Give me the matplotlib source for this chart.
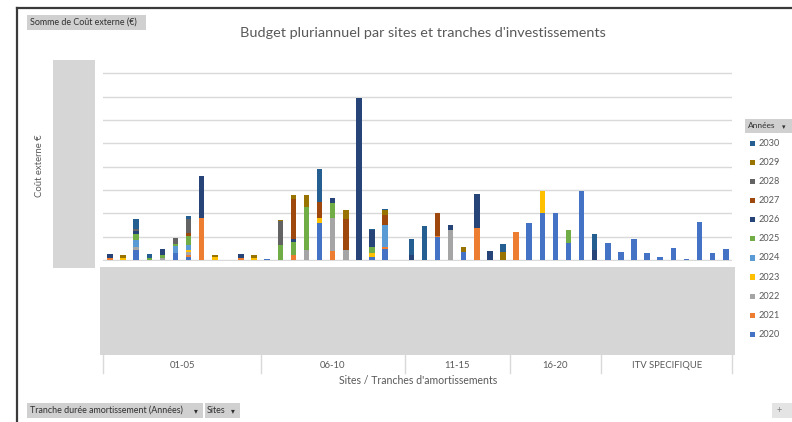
import matplotlib
matplotlib.use("Agg")
import matplotlib.pyplot as plt
from matplotlib.patches import Rectangle
from matplotlib.lines import Line2D
import matplotlib.transforms as mtransforms
import numpy as np

W, H, DPI = 792, 422, 100
FONT = ['Lato', 'DejaVu Sans']
plt.rcParams['font.family'] = FONT

title = "Budget pluriannuel par sites et tranches d'investissements"
y_label = "Coût externe €"
x_label = "Sites / Tranches d'amortissements"
value_button = "Somme de Coût externe (€)"
legend_title = "Années"

groups = ["01-05", "06-10", "11-15", "16-20", "ITV SPECIFIQUE"]
group_sizes = [12, 11, 8, 7, 10]

years = [2020, 2021, 2022, 2023, 2024, 2025, 2026, 2027, 2028, 2029, 2030]
colors = ["#4472C4", "#ED7D31", "#A5A5A5", "#FFC000", "#5B9BD5", "#70AD47",
          "#264478", "#9E480E", "#636363", "#997300", "#255E91"]

# values per year for each of the 48 sites (grouped 12 | 11 | 8 | 7 | 10)
v2020 = [0, 0, .45, 0, 0, .30, .12, 0, 0, 0, 0, 0,
         .05, 0, 0, 0, 1.57, 0, 0, 0, .11, .46, 0,
         0, 0, .97, 0, .36, 0, 0, 0,
         0, 1.60, 2.00, 2.00, .71, 2.97, 0,
         .71, .33, .89, .29, .11, .53, .03, 1.61, .31, .46]
v2021 = [.10, 0, 0, 0, 0, 0, .10, 1.79, 0, 0, .08, 0,
         0, 0, .21, 0, 0, .40, 0, 0, 0, .09, 0,
         0, 0, .06, 0, 0, 1.39, 0, 0,
         1.21, 0, 0, 0, 0, 0, 0,
         0, 0, 0, 0, 0, 0, 0, 0, 0, 0]
v2022 = [0, 0, .10, 0, .08, 0, .12, 0, 0, 0, 0, 0,
         0, 0, 0, .43, 0, 1.39, .43, 0, 0, 0, 0,
         0, 0, 0, 1.29, 0, 0, 0, 0,
         0, 0, 0, 0, 0, 0, 0,
         0, 0, 0, 0, 0, 0, 0, 0, 0, 0]
v2023 = [0, .10, 0, 0, 0, 0, .10, 0, .12, 0, 0, .10,
         0, 0, 0, 0, .21, 0, 0, 0, .20, 0, 0,
         0, 0, 0, 0, 0, 0, 0, 0,
         0, 0, .97, 0, 0, 0, 0,
         0, 0, 0, 0, 0, 0, 0, 0, 0, 0]
v2024 = [0, 0, .30, 0, 0, .28, .20, 0, 0, 0, 0, 0,
         0, 0, 0, 0, 0, 0, 0, 0, 0, .93, 0,
         0, 0, 0, 0, 0, 0, 0, 0,
         0, 0, 0, 0, 0, 0, 0,
         0, 0, 0, 0, 0, 0, 0, 0, 0, 0]
v2025 = [0, 0, .25, .10, .12, .12, .40, 0, 0, 0, 0, 0,
         0, .64, .57, 1.86, 0, .64, 0, 0, .23, 0, 0,
         0, 0, 0, 0, 0, 0, 0, 0,
         0, 0, 0, 0, .57, 0, 0,
         0, 0, 0, 0, 0, 0, 0, 0, 0, 0]
v2026 = [.14, 0, .15, 0, .26, 0, 0, 1.81, 0, 0, .19, 0,
         0, 0, .14, 0, 0, .21, 0, 6.96, .74, 0, 0,
         .20, 0, 0, .21, 0, 1.42, .39, 0,
         0, 0, 0, 0, 0, 0, .43,
         0, 0, 0, 0, 0, 0, 0, 0, 0, 0]
v2027 = [0, 0, 0, 0, 0, 0, .10, 0, 0, 0, 0, 0,
         0, 0, 1.71, 0, .71, 0, 1.31, 0, 0, .46, 0,
         0, 0, .97, 0, 0, 0, 0, 0,
         0, 0, 0, 0, 0, 0, 0,
         0, 0, 0, 0, 0, 0, 0, 0, 0, 0]
v2028 = [0, 0, .10, 0, 0, .26, .60, 0, 0, 0, 0, 0,
         0, 1.02, 0, 0, 0, 0, 0, 0, 0, 0, 0,
         0, 0, 0, 0, 0, 0, 0, 0,
         0, 0, 0, 0, 0, 0, 0,
         0, 0, 0, 0, 0, 0, 0, 0, 0, 0]
v2029 = [0, .13, 0, 0, 0, 0, 0, 0, .09, 0, 0, .11,
         0, .05, .14, .50, 0, 0, .40, 0, 0, .19, 0,
         0, 0, 0, 0, .21, 0, 0, .33,
         0, 0, 0, 0, 0, 0, 0,
         0, 0, 0, 0, 0, 0, 0, 0, 0, 0]
v2030 = [0, 0, .39, .14, 0, 0, .15, 0, 0, 0, 0, 0,
         0, 0, 0, 0, 1.39, 0, 0, 0, .07, .05, 0,
         .69, 1.47, 0, 0, 0, 0, 0, .34,
         0, 0, 0, 0, 0, 0, .67,
         0, 0, 0, 0, 0, 0, 0, 0, 0, 0]
series = [v2020, v2021, v2022, v2023, v2024, v2025, v2026, v2027, v2028, v2029, v2030]

GRAY_TXT = "#595959"
BOX = "#D6D6D6"

fig = plt.figure(figsize=(W / DPI, H / DPI), dpi=DPI)
fig.patch.set_facecolor("white")


def fx(px):
    return px / W


def fy(py):
    return 1 - py / H


def frect(x0, y0, x1, y1, **kw):
    fig.patches.append(Rectangle((fx(x0), fy(y1)), fx(x1) - fx(x0), fy(y0) - fy(y1),
                                 transform=fig.transFigure, **kw))


unit = 23.33
ylo, yhi = -0.04, 8.04
base_px = 260.0
ax = fig.add_axes([fx(103.45), fy(base_px - ylo * unit),
                   fx(732.3) - fx(103.45), (yhi - ylo) * unit / H])
n = sum(group_sizes)
x = np.arange(n)
bottom = np.zeros(n)
for yr, col, vals in zip(years, colors, series):
    vals = np.array(vals, dtype=float)
    ax.bar(x, vals, 0.42, bottom=bottom, color=col, linewidth=0, label=str(yr), zorder=3)
    bottom += vals
ax.set_xlim(-0.5, n - 0.5)
ax.set_ylim(ylo, yhi)
ax.set_yticks(np.arange(0, 9))
ax.yaxis.grid(True, color="#D9D9D9", lw=1.0, zorder=0)
ax.set_axisbelow(True)
ax.tick_params(length=0, labelleft=False, labelbottom=False)
for s in ax.spines.values():
    s.set_visible(False)
ax.patch.set_alpha(0)

# outer frame
fig.add_artist(Line2D([fx(17), fx(17)], [fy(8), fy(422)], transform=fig.transFigure,
                      color="#3A3A3A", lw=1.6))
fig.add_artist(Line2D([fx(17), fx(792)], [fy(8), fy(8)], transform=fig.transFigure,
                      color="#3A3A3A", lw=1.6))

# masking grey panels
frect(53, 60, 95, 268, color=BOX, lw=0)
frect(100, 267, 735, 355, color=BOX, lw=0)

# title and buttons
fig.text(fx(423), fy(33), title, ha="center", va="center", fontsize=10.4, color=GRAY_TXT)
frect(27, 15, 146, 30, color="#D0D0D0", lw=0)
fig.text(fx(30), fy(22.5), value_button, ha="left", va="center", fontsize=6.4, color="#303030")
fig.text(fx(40), fy(166), y_label, ha="center", va="center", rotation=90, fontsize=6.8, color=GRAY_TXT)

# category group axis
trans = mtransforms.blended_transform_factory(ax.transData, fig.transFigure)
edges = np.concatenate([[0], np.cumsum(group_sizes)]) - 0.5
for e in edges:
    fig.add_artist(Line2D([e, e], [fy(355), fy(373)], transform=trans, color="#D9D9D9", lw=1.0))
for g, a, b in zip(groups, edges[:-1], edges[1:]):
    fig.text((a + b) / 2, fy(365), g, transform=trans, ha="center", va="center",
             fontsize=6.8, color=GRAY_TXT)
fig.text(fx(418), fy(381), x_label, ha="center", va="center", fontsize=7.6, color=GRAY_TXT)

# bottom buttons
frect(27, 403, 203, 418, color="#D0D0D0", lw=0)
fig.text(fx(30), fy(410.5), "Tranche durée amortissement (Années)", ha="left", va="center",
         fontsize=6.4, color="#303030")
fig.text(fx(196), fy(410.5), "▾", ha="center", va="center", fontsize=5.5, color="#303030")
frect(204.5, 403, 240, 418, color="#D0D0D0", lw=0)
fig.text(fx(207), fy(410.5), "Sites", ha="left", va="center", fontsize=6.4, color="#303030")
fig.text(fx(233), fy(410.5), "▾", ha="center", va="center", fontsize=5.5, color="#303030")
frect(772, 403, 792, 418, color="#E4E4E4", lw=0)
fig.text(fx(779), fy(410.5), "+", ha="center", va="center", fontsize=6.5, color="#808080")

# legend
frect(745, 119, 792, 133, color="#D0D0D0", lw=0)
fig.text(fx(748), fy(126), legend_title, ha="left", va="center", fontsize=6.0, color="#303030")
fig.text(fx(784), fy(127), "▾", ha="center", va="center", fontsize=5.0, color="#303030")
leg_y0, leg_dy = 143.3, 19.1
for i, (yr, col) in enumerate(zip(years[::-1], colors[::-1])):
    yy = leg_y0 + i * leg_dy
    frect(750.2, yy - 2.6, 755.4, yy + 2.6, color=col, lw=0)
    fig.text(fx(758.5), fy(yy), str(yr), ha="left", va="center", fontsize=6.6, color=GRAY_TXT)

fig.savefig("out.png", dpi=DPI, facecolor="white")
